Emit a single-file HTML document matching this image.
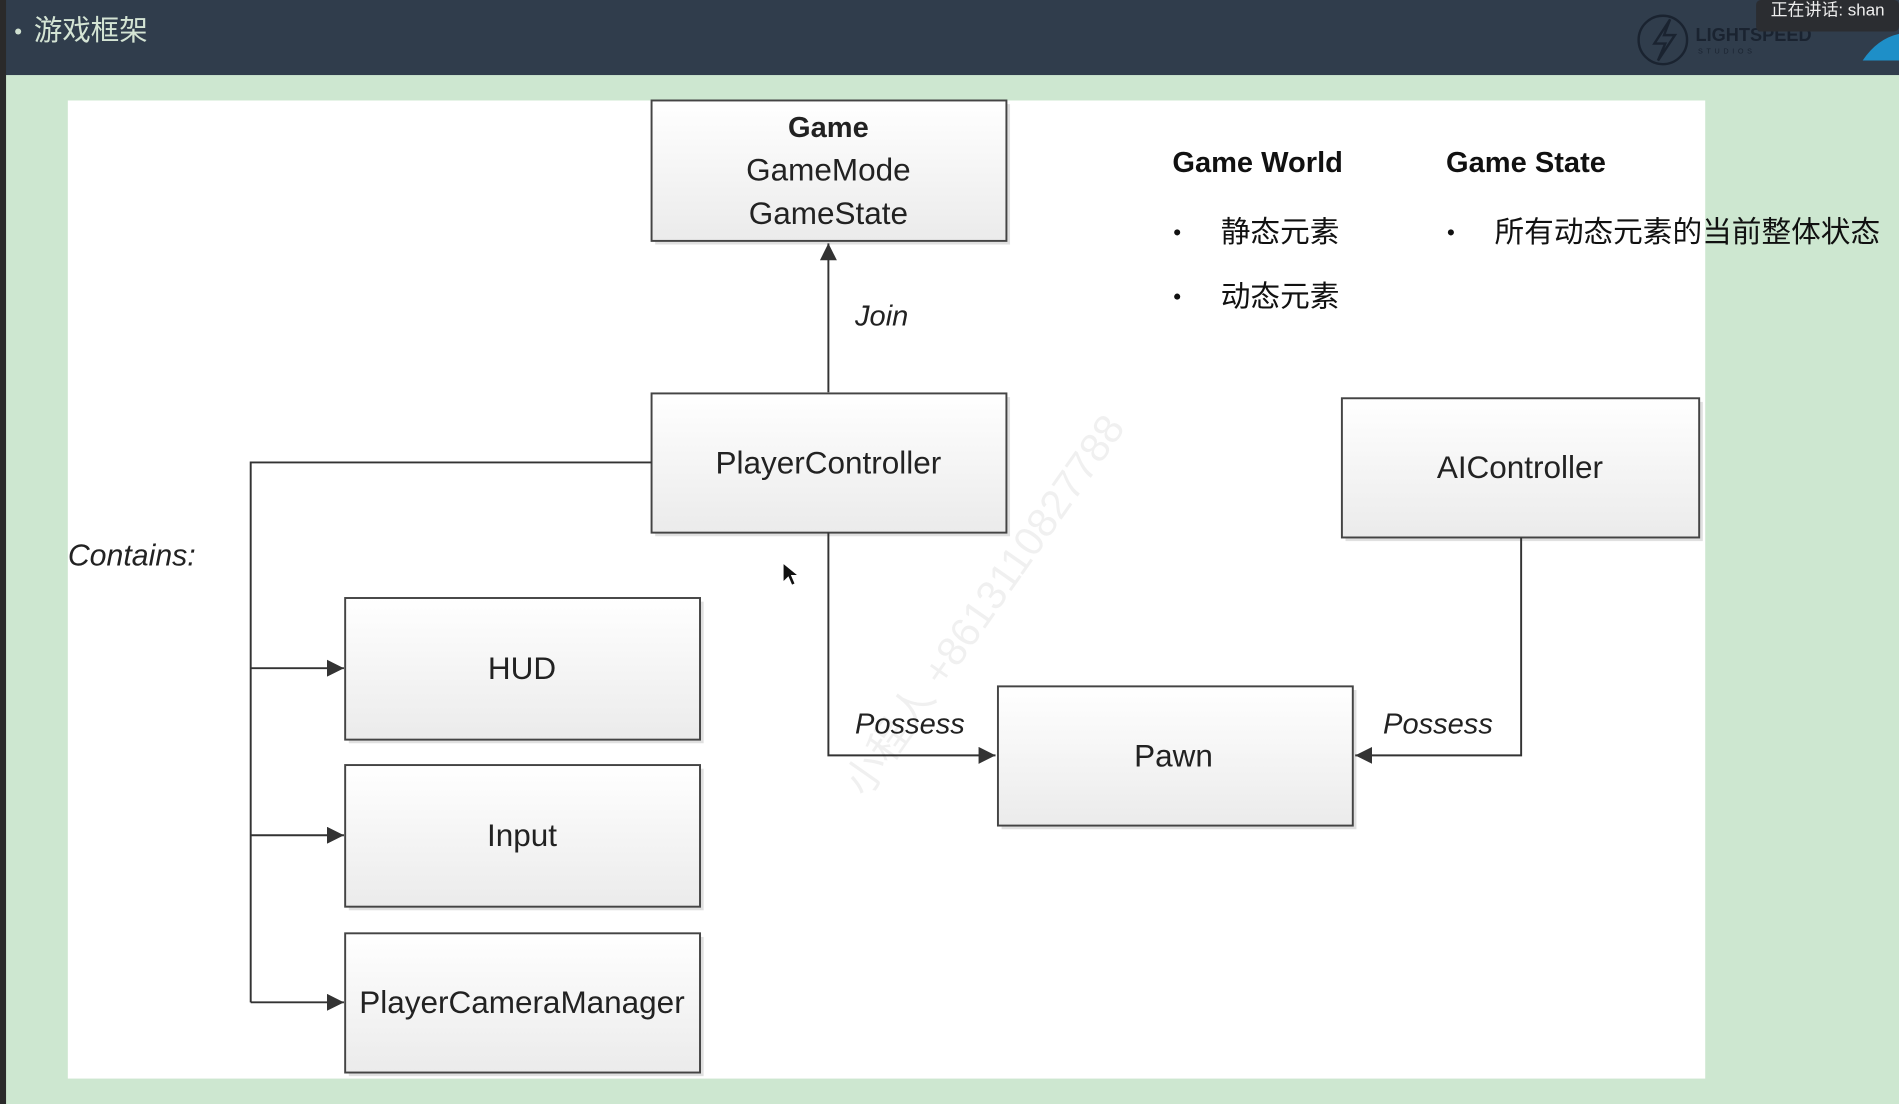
<!DOCTYPE html>
<html><head><meta charset="utf-8"><style>
html,body{margin:0;padding:0;width:1899px;height:1104px;overflow:hidden;background:#cde7d0}
svg{display:block}
text{font-family:"Liberation Sans","Noto Sans CJK SC",sans-serif}
</style></head><body>
<svg width="1899" height="1104" viewBox="0 0 1568 912" preserveAspectRatio="none" xmlns="http://www.w3.org/2000/svg">
<defs>
<linearGradient id="g" x1="0" y1="0" x2="0" y2="1"><stop offset="0" stop-color="#ffffff"/><stop offset="1" stop-color="#ebebeb"/></linearGradient>
<marker id="a" viewBox="0 0 10 10" refX="10" refY="5" markerWidth="14" markerHeight="14" markerUnits="userSpaceOnUse" orient="auto"><path d="M0,0 L10,5 L0,10 z" fill="#333"/></marker>
</defs>
<rect x="0" y="0" width="1568" height="912" fill="#cde7d0"/>
<rect x="0" y="0" width="1568" height="62" fill="#303d4c"/>
<rect x="0" y="0" width="5" height="912" fill="#2a2a2a"/>
<circle cx="15" cy="26" r="2.5" fill="#cfe0d0"/>
<text x="28" y="33" font-size="23.5" fill="#d4e4d4">游戏框架</text>
<circle cx="1373" cy="33" r="20" fill="none" stroke="#1a2330" stroke-width="2"/>
<path d="M1379,16 L1366,36 L1375,36 L1369,50 L1383,29 L1374,29 Z" fill="none" stroke="#1a2330" stroke-width="2"/>
<text x="1400" y="34" font-size="15" font-weight="bold" fill="#1a2330">LIGHTSPEED</text>
<text x="1402" y="44" font-size="6" letter-spacing="3" fill="#1a2330">STUDIOS</text>
<rect x="1450" y="0" width="118" height="26" rx="4" fill="#2b2d31"/>
<text x="1462" y="13" font-size="14" fill="#eee">正在讲话:  shan</text>
<path d="M1538,50 Q1550,32 1568,28 L1568,50 Z" fill="#1e8fc8"/>
<rect x="56" y="83" width="1352" height="808" fill="#fff"/>
<g fill="#000" fill-opacity="0.12">
<rect x="541" y="86" width="293" height="116"/>
<rect x="541" y="328" width="293" height="115"/>
<rect x="1111" y="332" width="295" height="115"/>
<rect x="827" y="570" width="293" height="115"/>
<rect x="288" y="497" width="293" height="117"/>
<rect x="288" y="635" width="293" height="117"/>
<rect x="288" y="774" width="293" height="115"/>
</g>
<g stroke="#444" stroke-width="1.6" fill="url(#g)">
<rect x="538" y="83" width="293" height="116"/>
<rect x="538" y="325" width="293" height="115"/>
<rect x="1108" y="329" width="295" height="115"/>
<rect x="824" y="567" width="293" height="115"/>
<rect x="285" y="494" width="293" height="117"/>
<rect x="285" y="632" width="293" height="117"/>
<rect x="285" y="771" width="293" height="115"/>
</g>
<g stroke="#333" stroke-width="1.6" fill="none">
<path d="M684,324 L684,201" marker-end="url(#a)"/>
<path d="M538,382 L207,382 L207,828"/>
<path d="M207,552 L284,552" marker-end="url(#a)"/>
<path d="M207,690 L284,690" marker-end="url(#a)"/>
<path d="M207,828 L284,828" marker-end="url(#a)"/>
<path d="M684,440 L684,624 L822,624" marker-end="url(#a)"/>
<path d="M1256,444 L1256,624 L1119,624" marker-end="url(#a)"/>
</g>
<g font-size="26" fill="#222" text-anchor="middle">
<text x="684" y="113" font-weight="bold" font-size="24">Game</text>
<text x="684" y="149">GameMode</text>
<text x="684" y="185">GameState</text>
<text x="684" y="391">PlayerController</text>
<text x="1255" y="395">AIController</text>
<text x="969" y="633">Pawn</text>
<text x="431" y="561">HUD</text>
<text x="431" y="699">Input</text>
<text x="431" y="837">PlayerCameraManager</text>
</g>
<g font-size="24" font-style="italic" fill="#222">
<text x="706" y="269">Join</text>
<text x="56" y="467" font-size="25">Contains:</text>
<text x="706" y="606">Possess</text>
<text x="1142" y="606">Possess</text>
</g>
<text x="968" y="142" font-size="24" font-weight="bold" fill="#111">Game World</text>
<text x="1194" y="142" font-size="24" font-weight="bold" fill="#111">Game State</text>
<g font-size="24.5" fill="#111">
<circle cx="972" cy="192" r="2.5"/><text x="1008" y="200">静态元素</text>
<circle cx="972" cy="245" r="2.5"/><text x="1008" y="253">动态元素</text>
<circle cx="1198" cy="192" r="2.5"/><text x="1234" y="200">所有动态元素的当前整体状态</text>
</g>
<text x="0" y="0" font-size="34" fill="#000" fill-opacity="0.06" transform="translate(715,660) rotate(-55)">小程人 +8613110827788</text>
<path d="M647,466 L647,480 L651,476 L654,483 L656,482 L653,475 L658,475 Z" fill="#111"/>
</svg>
</body></html>
